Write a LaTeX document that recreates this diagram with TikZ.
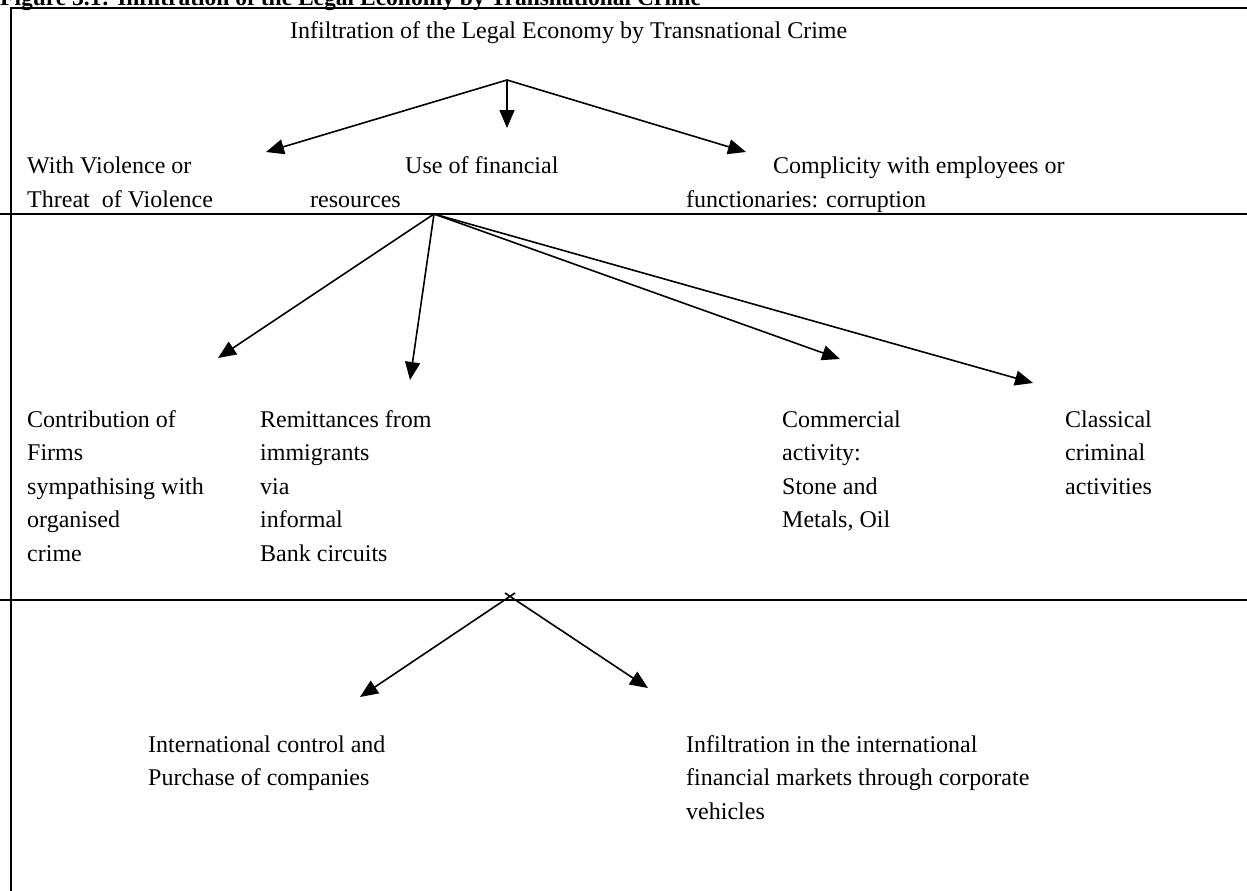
\documentclass[tikz,border=0pt]{standalone}
\usepackage{fontspec}
\setmainfont{Liberation Serif}
\usetikzlibrary{arrows.meta}
\begin{document}
\begin{tikzpicture}[x=1pt,y=-1pt,
  lbl/.style={anchor=base west, inner sep=0pt, align=left, font=\fontsize{24}{33.5}\selectfont},
  conn/.style={line width=1.6pt, -{Triangle[length=18pt,width=15pt]}},
  rule/.style={line width=1.8pt}]
\useasboundingbox (0,0) rectangle (1247,891);
% title (cut off at the top of the page)
\node[anchor=base west, inner sep=0pt, font=\fontsize{23.5}{28}\selectfont\bfseries] (fig) at (0,6) {Figure 3.1: Infiltration of the Legal Economy by Transnational Crime};
% frame and rules
\draw[rule] (11,891) -- (11,8) -- (1247,8);
\draw[rule] (0,214) -- (1247,214);
\draw[rule] (0,600) -- (1247,600);
% texts (base anchor = baseline of the last line)
\node[lbl] (main) at (290,39) {Infiltration of the Legal Economy by Transnational Crime};
\node[lbl] (viol) at (27,207) {With Violence or\\Threat~~of Violence};
\node[lbl] (fin1) at (405,173) {Use of financial};
\node[lbl] (fin2) at (310,207) {resources};
\node[lbl] (comp1) at (773,173) {Complicity with employees or};
\node[lbl] (comp2) at (686,207) {functionaries: corruption};
\node[lbl] (firms) at (27,561) {Contribution of\\Firms\\sympathising with\\organised\\crime};
\node[lbl] (remit) at (260,561) {Remittances from\\immigrants\\via\\informal\\Bank circuits};
\node[lbl] (comm) at (782,527.5) {Commercial\\activity:\\Stone and\\Metals, Oil};
\node[lbl] (class) at (1065,494) {Classical\\criminal\\activities};
\node[lbl] (intl) at (148,785.5) {International control and\\Purchase of companies};
\node[lbl] (infl) at (686,819) {Infiltration in the international\\financial markets through corporate\\vehicles};
% connector points
\coordinate (a1) at (507,80);
\coordinate (t1l) at (266,152);
\coordinate (t1m) at (507,128);
\coordinate (t1r) at (746,152);
\coordinate (a2) at (434,214);
\coordinate (t2a) at (218,358);
\coordinate (t2b) at (410,380);
\coordinate (t2c) at (840,359);
\coordinate (t2d) at (1033,383);
\coordinate (a3l) at (515,593);
\coordinate (a3r) at (505,593);
\coordinate (t3l) at (360,697);
\coordinate (t3r) at (648,688);
% connectors
\draw[conn] (a1) -- (t1l);
\draw[conn] (a1) -- (t1m);
\draw[conn] (a1) -- (t1r);
\draw[conn] (a2) -- (t2a);
\draw[conn] (a2) -- (t2b);
\draw[conn] (a2) -- (t2c);
\draw[conn] (a2) -- (t2d);
\draw[conn] (a3l) -- (t3l);
\draw[conn] (a3r) -- (t3r);
\end{tikzpicture}
\end{document}
